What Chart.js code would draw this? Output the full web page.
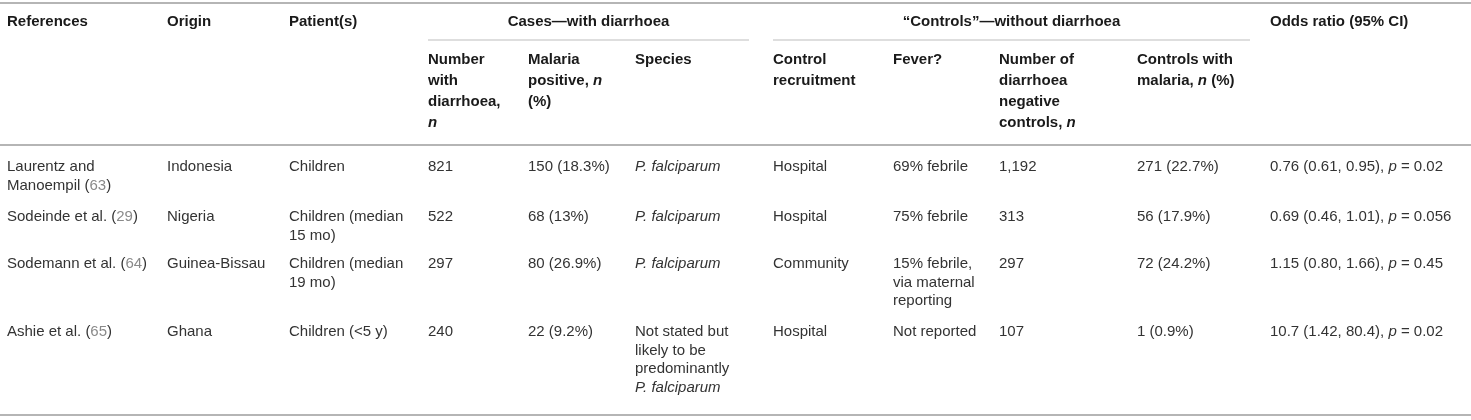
<!DOCTYPE html>
<html>
<head>
<meta charset="utf-8">
<script src="https://cdn.jsdelivr.net/npm/chart.js@4.4.0/dist/chart.umd.min.js"></script>
<style>
  html, body { margin: 0; padding: 0; background: #fff; }
  #wrap { width: 1471px; height: 420px; }
</style>
</head>
<body>
<div id="wrap"><canvas id="table-chart" width="1471" height="420"></canvas></div>
<script>
// --- table content ---
// markup: _text_ = italic, {63} = grey citation number, \n = line break
var references = ['Laurentz and\nManoempil ({63})', 'Sodeinde et al. ({29})', 'Sodemann et al. ({64})', 'Ashie et al. ({65})'];
var origins = ['Indonesia', 'Nigeria', 'Guinea-Bissau', 'Ghana'];
var patients = ['Children', 'Children (median\n15 mo)', 'Children (median\n19 mo)', 'Children (<5 y)'];
var numberWithDiarrhoea = ['821', '522', '297', '240'];
var malariaPositive = ['150 (18.3%)', '68 (13%)', '80 (26.9%)', '22 (9.2%)'];
var species = ['_P. falciparum_', '_P. falciparum_', '_P. falciparum_', 'Not stated but\nlikely to be\npredominantly\n_P. falciparum_'];
var controlRecruitment = ['Hospital', 'Hospital', 'Community', 'Hospital'];
var fever = ['69% febrile', '75% febrile', '15% febrile,\nvia maternal\nreporting', 'Not reported'];
var negativeControls = ['1,192', '313', '297', '107'];
var controlsWithMalaria = ['271 (22.7%)', '56 (17.9%)', '72 (24.2%)', '1 (0.9%)'];
var oddsRatio = ['0.76 (0.61, 0.95), _p_ = 0.02', '0.69 (0.46, 1.01), _p_ = 0.056', '1.15 (0.80, 1.66), _p_ = 0.45', '10.7 (1.42, 80.4), _p_ = 0.02'];

var topHeaders = ['References', 'Origin', 'Patient(s)', 'Odds ratio (95% CI)'];
var groupHeaders = ['Cases\u2014with diarrhoea', '\u201cControls\u201d\u2014without diarrhoea'];
var subHeaders = ['Number\nwith\ndiarrhoea,\n_n_', 'Malaria\npositive, _n_\n(%)', 'Species', 'Control\nrecruitment', 'Fever?', 'Number of\ndiarrhoea\nnegative\ncontrols, _n_', 'Controls with\nmalaria, _n_ (%)'];

var bodyColumns = [references, origins, patients, numberWithDiarrhoea, malariaPositive, species,
                   controlRecruitment, fever, negativeControls, controlsWithMalaria, oddsRatio];

// --- layout (scale units = pixels of the 1471x420 frame) ---
var colX = [7, 167, 289, 428, 528, 635, 773, 893, 999, 1137, 1270];
var topHeaderCols = [0, 1, 2, 10];
var groupSpans = [[3, 5, 749], [6, 9, 1250]];   // first col, last col, rule end
var rowFirstLine = [167, 217, 264, 332];
var bodyLineH = 18.6;
var headLineH = 21;
var headY = 22, groupRuleY = 40, subHeadY = 60;
var rules = { top: 3, headBottom: 145, bottom: 415 };

var FONT = '"Liberation Sans", Arial, Helvetica, sans-serif';
var BODY_SIZE = 15, HEAD_SIZE = 15;

function cellPoints() {
  var pts = [];
  bodyColumns.forEach(function(col, c) {
    col.forEach(function(txt, r) {
      pts.push({ x: colX[c], y: rowFirstLine[r], text: txt, kind: 'body' });
    });
  });
  topHeaders.forEach(function(txt, i) {
    pts.push({ x: colX[topHeaderCols[i]], y: headY, text: txt, kind: 'head' });
  });
  subHeaders.forEach(function(txt, i) {
    pts.push({ x: colX[3 + i], y: subHeadY, text: txt, kind: 'head' });
  });
  groupHeaders.forEach(function(txt, i) {
    var g = groupSpans[i];
    pts.push({ x: (colX[g[0]] + g[2]) / 2, y: headY, text: txt, kind: 'group' });
  });
  return pts;
}

function parseRich(line) {
  var segs = [], italic = false, buf = '', i;
  for (i = 0; i < line.length; i++) {
    var ch = line[i];
    if (ch === '_') { if (buf) segs.push({ t: buf, it: italic, ref: false }); buf = ''; italic = !italic; }
    else if (ch === '{') { if (buf) segs.push({ t: buf, it: italic, ref: false }); buf = ''; }
    else if (ch === '}') { if (buf) segs.push({ t: buf, it: italic, ref: true }); buf = ''; }
    else buf += ch;
  }
  if (buf) segs.push({ t: buf, it: italic, ref: false });
  return segs;
}

function fontFor(seg, bold, size) {
  return (seg.it ? 'italic ' : '') + (bold ? 'bold ' : '') + size + 'px ' + FONT;
}

function drawRichLine(ctx, line, x, y, bold, size, color, align) {
  var segs = parseRich(line);
  var total = 0;
  segs.forEach(function(s) { ctx.font = fontFor(s, bold, size); s.w = ctx.measureText(s.t).width; total += s.w; });
  var cx = align === 'center' ? x - total / 2 : x;
  segs.forEach(function(s) {
    ctx.font = fontFor(s, bold, size);
    ctx.fillStyle = s.ref ? '#8a8a8a' : color;
    ctx.fillText(s.t, cx, y);
    cx += s.w;
  });
}

var tablePlugin = {
  id: 'tableCells',
  afterDatasetsDraw: function(chart) {
    var ctx = chart.ctx, xs = chart.scales.x, ys = chart.scales.y;
    ctx.save();
    ctx.textBaseline = 'middle';
    ctx.textAlign = 'left';

    function hRule(y, x0, x1, w, color) {
      ctx.strokeStyle = color;
      ctx.lineWidth = w;
      ctx.beginPath();
      ctx.moveTo(xs.getPixelForValue(x0), ys.getPixelForValue(y));
      ctx.lineTo(xs.getPixelForValue(x1), ys.getPixelForValue(y));
      ctx.stroke();
    }
    hRule(rules.top, 0, 1471, 2, '#b5b5b5');
    hRule(rules.headBottom, 0, 1471, 2, '#b5b5b5');
    hRule(rules.bottom, 0, 1471, 2, '#b5b5b5');
    groupSpans.forEach(function(g) { hRule(groupRuleY, colX[g[0]], g[2], 1, '#bdbdbd'); });

    var meta = chart.getDatasetMeta(0);
    var pts = chart.data.datasets[0].data;
    meta.data.forEach(function(el, i) {
      var p = pts[i];
      var isHead = p.kind !== 'body';
      var lh = isHead ? headLineH : bodyLineH;
      var lhPx = Math.abs(ys.getPixelForValue(lh) - ys.getPixelForValue(0));
      var lines = p.text.split('\n');
      lines.forEach(function(line, k) {
        drawRichLine(ctx, line, el.x, el.y + k * lhPx, isHead,
                     isHead ? HEAD_SIZE : BODY_SIZE,
                     isHead ? '#1a1a1a' : '#333333',
                     p.kind === 'group' ? 'center' : 'left');
      });
    });
    ctx.restore();
  }
};

new Chart(document.getElementById('table-chart'), {
  type: 'scatter',
  data: {
    datasets: [{
      data: cellPoints(),
      pointRadius: 0,
      pointHoverRadius: 0
    }]
  },
  options: {
    responsive: false,
    animation: false,
    events: [],
    layout: { padding: 0 },
    plugins: { legend: { display: false }, tooltip: { enabled: false } },
    scales: {
      x: { type: 'linear', min: 0, max: 1471, display: false },
      y: { type: 'linear', min: 0, max: 420, reverse: true, display: false }
    }
  },
  plugins: [tablePlugin]
});
</script>
</body>
</html>
